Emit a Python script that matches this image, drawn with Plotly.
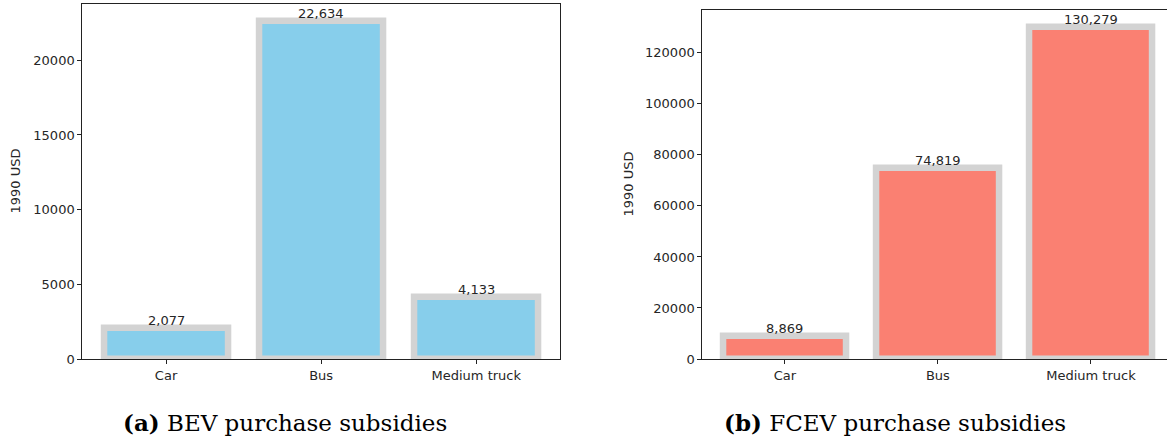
import plotly.graph_objects as go

categories = ["Car", "Bus", "Medium truck"]
bev_values = [2077, 22634, 4133]
fcev_values = [8869, 74819, 130279]
bev_ticks = [0, 5000, 10000, 15000, 20000]
fcev_ticks = [0, 20000, 40000, 60000, 80000, 100000, 120000]
captions_bold = ["(a)", "(b)"]
captions_text = ["BEV purchase subsidies", "FCEV purchase subsidies"]
y_label = "1990 USD"

W, H = 1167, 442
FONT = "DejaVu Sans"
FS = 13
TXT = "#262626"


def px_x(p):
    return p / W


def px_y(p):
    return 1 - p / H


fig = go.Figure()
xpos = list(range(len(categories)))

fig.add_trace(go.Bar(x=xpos, y=bev_values, width=0.8, xaxis="x", yaxis="y",
                     marker=dict(color="#87CEEB", line=dict(color="#D3D3D3", width=6.5)),
                     showlegend=False, hoverinfo="skip"))
fig.add_trace(go.Bar(x=xpos, y=fcev_values, width=0.8, xaxis="x2", yaxis="y2",
                     marker=dict(color="#FA8072", line=dict(color="#D3D3D3", width=6.5)),
                     showlegend=False, hoverinfo="skip"))

left_l, left_r = 82.3, 560.0
right_l = 702.3
unit_right = 153.0
right_range_max = -0.54 + (W - right_l) / unit_right

axis_common = dict(showgrid=False, zeroline=False, showline=True, linecolor="#222222",
                   linewidth=1, ticks="outside", ticklen=4, tickwidth=1, tickcolor="#222222",
                   automargin=False,
                   tickfont=dict(family=FONT, size=FS, color=TXT))

fig.update_layout(
    width=W, height=H, margin=dict(l=0, r=0, t=0, b=0, pad=0, autoexpand=False),
    paper_bgcolor="white", plot_bgcolor="white", bargap=0,
    xaxis=dict(domain=[px_x(left_l), px_x(left_r)], range=[-0.54, 2.54], anchor="y",
               tickvals=xpos, ticktext=categories, mirror=True, **axis_common),
    yaxis=dict(domain=[px_y(359), px_y(4)], range=[0, max(bev_values) * 1.05], anchor="x",
               tickvals=bev_ticks, ticktext=[str(t) for t in bev_ticks], mirror=True,
               **axis_common),
    xaxis2=dict(domain=[px_x(right_l), 1.0], range=[-0.54, right_range_max], anchor="y2",
                tickvals=xpos, ticktext=categories, mirror=True, **axis_common),
    yaxis2=dict(domain=[px_y(359), px_y(10)], range=[0, max(fcev_values) * 1.05], anchor="x2",
                tickvals=fcev_ticks, ticktext=[str(t) for t in fcev_ticks], mirror=False,
                **axis_common),
)

annotations = []
for vals, xr, yr in [(bev_values, "x", "y"), (fcev_values, "x2", "y2")]:
    for xi, v in zip(xpos, vals):
        annotations.append(dict(x=xi, y=v, xref=xr, yref=yr, text=f"{v:,}",
                                showarrow=False, yanchor="bottom", xanchor="center",
                                borderpad=0, yshift=-1,
                                font=dict(family=FONT, size=FS, color=TXT)))

for xc, yc in [(15, 181.5), (628, 184.5)]:
    annotations.append(dict(x=px_x(xc), y=px_y(yc), xref="paper", yref="paper",
                            text=y_label, textangle=-90, showarrow=False,
                            xanchor="center", yanchor="middle",
                            font=dict(family=FONT, size=FS, color=TXT)))

for xc, b, t in [(285, captions_bold[0], captions_text[0]), (895, captions_bold[1], captions_text[1])]:
    annotations.append(dict(x=px_x(xc), y=px_y(422), xref="paper", yref="paper",
                            text=f"<b>{b}</b> {t}", showarrow=False,
                            xanchor="center", yanchor="middle",
                            font=dict(family="DejaVu Serif", size=23, color="black")))

fig.update_layout(annotations=annotations)
fig.write_html("out.html")
